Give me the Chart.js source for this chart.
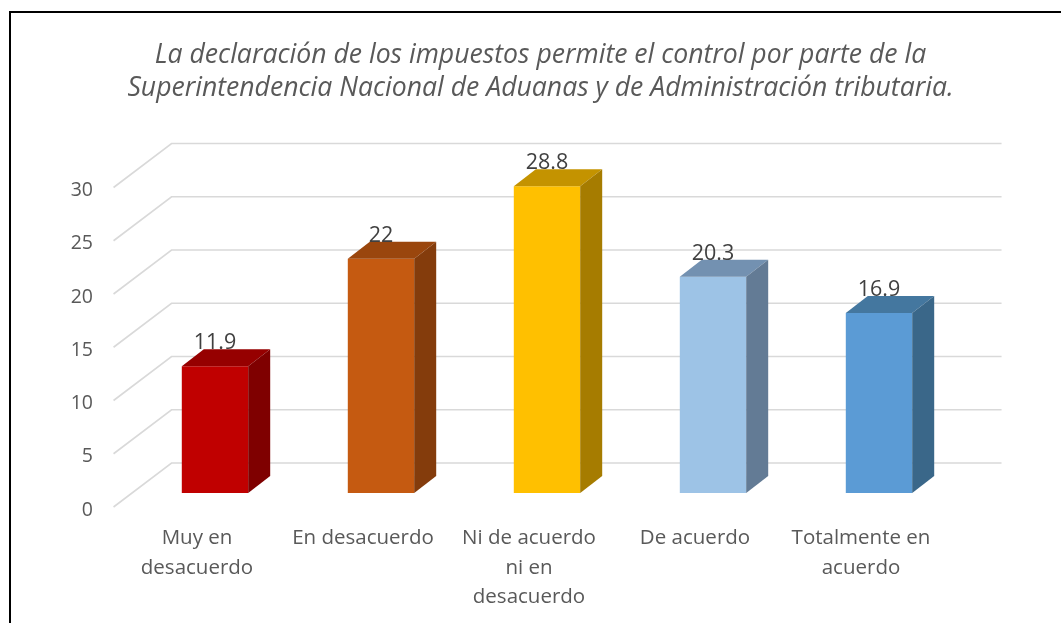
<!DOCTYPE html>
<html>
<head>
<meta charset="utf-8">
<script src="https://cdn.jsdelivr.net/npm/chart.js@4"></script>
<style>
    html, body { margin: 0; padding: 0; background: #fff; overflow: hidden; }
    #frame { position: absolute; left: 9px; top: 11px; width: 2000px; height: 2000px; border: 2px solid #000; pointer-events: none; }
    #wrap { position: absolute; left: 0; top: 0; width: 1061px; height: 623px; }
</style>
</head>
<body>
<div id="wrap"><canvas id="chart"></canvas></div>
<div id="frame"></div>
<script>
    const categories = [
        ['Muy en', 'desacuerdo'],
        ['En desacuerdo'],
        ['Ni de acuerdo', 'ni en', 'desacuerdo'],
        ['De acuerdo'],
        ['Totalmente en', 'acuerdo']
    ];
    const values = [11.9, 22, 28.8, 20.3, 16.9];
    const yTicks = [0, 5, 10, 15, 20, 25, 30];

    const frontColors = ['#C00000', '#C55A11', '#FFC000', '#9DC3E6', '#5B9BD5'];
    const topColors = ['#960000', '#9A460D', '#C49300', '#7391B1', '#44779F'];
    const sideColors = ['#7F0000', '#843C0C', '#A67C00', '#637B95', '#3A6789'];

    // 3D geometry (px)
    const wallDX = 58, wallDY = 44, frontOff = 14; // bars sit 14px behind front edge
    const barDX = 22, barDY = 17;

    const grid3d = {
        id: 'grid3d',
        beforeDatasetsDraw(chart) {
            const { ctx, chartArea, scales: { y } } = chart;
            const shiftX = wallDX * frontOff / wallDY;
            const x0 = chartArea.left - shiftX;
            const xb = x0 + wallDX;
            const xr = chartArea.right + (wallDX - shiftX);
            ctx.save();
            ctx.strokeStyle = '#D9D9D9';
            ctx.lineWidth = 1.6;
            yTicks.forEach(v => {
                const yf = y.getPixelForValue(v);
                ctx.beginPath();
                ctx.moveTo(x0, yf + frontOff);
                ctx.lineTo(xb, yf + frontOff - wallDY);
                ctx.lineTo(xr, yf + frontOff - wallDY);
                ctx.stroke();
            });
            ctx.restore();
        }
    };

    const bars3d = {
        id: 'bars3d',
        afterDatasetsDraw(chart) {
            const { ctx } = chart;
            const meta = chart.getDatasetMeta(0);
            ctx.save();
            meta.data.forEach((bar, i) => {
                const l = bar.x - bar.width / 2, r = bar.x + bar.width / 2;
                const t = bar.y, b = bar.base;
                ctx.fillStyle = topColors[i];
                ctx.beginPath();
                ctx.moveTo(l, t); ctx.lineTo(r, t);
                ctx.lineTo(r + barDX, t - barDY); ctx.lineTo(l + barDX, t - barDY);
                ctx.closePath(); ctx.fill();
                ctx.fillStyle = sideColors[i];
                ctx.beginPath();
                ctx.moveTo(r, t); ctx.lineTo(r + barDX, t - barDY);
                ctx.lineTo(r + barDX, b - barDY); ctx.lineTo(r, b);
                ctx.closePath(); ctx.fill();

                ctx.fillStyle = '#404040';
                ctx.font = '21.5px "Open Sans"';
                ctx.textAlign = 'center';
                ctx.textBaseline = 'middle';
                ctx.fillText(String(values[i]), bar.x, t - 23);
            });
            ctx.restore();
        }
    };

    new Chart(document.getElementById('chart'), {
        type: 'bar',
        data: {
            labels: categories,
            datasets: [{
                data: values,
                backgroundColor: frontColors,
                borderWidth: 0,
                barPercentage: 0.4,
                categoryPercentage: 1
            }]
        },
        options: {
            responsive: true,
            maintainAspectRatio: false,
            animation: false,
            events: [],
            layout: { padding: { left: 20, right: 0, top: 0, bottom: 0 } },
            plugins: {
                legend: { display: false },
                tooltip: { enabled: false },
                title: {
                    display: true,
                    text: ['La declaración de los impuestos permite el control por parte de la',
                           'Superintendencia Nacional de Aduanas y de Administración tributaria.'],
                    color: '#595959',
                    font: { family: 'Open Sans', size: 26.6, style: 'italic', weight: 'normal', lineHeight: 1.25 },
                    padding: { top: 39, bottom: 68 }
                }
            },
            scales: {
                x: {
                    afterFit(scale) { scale.height = 130; },
                    grid: { display: false, drawTicks: false },
                    border: { display: false },
                    ticks: {
                        color: '#595959',
                        font: { family: 'Open Sans', size: 20.5, lineHeight: 1.42 },
                        padding: 31,
                        labelOffset: -18,
                        maxRotation: 0,
                        autoSkip: false
                    }
                },
                y: {
                    min: 0,
                    max: 30,
                    afterFit(scale) { scale.width = 112; },
                    afterBuildTicks(scale) { scale.ticks = yTicks.map(v => ({ value: v })); },
                    grid: { display: false, drawTicks: false },
                    border: { display: false },
                    ticks: {
                        color: '#595959',
                        font: { family: 'Open Sans', size: 19.5 },
                        padding: 39,
                        labelOffset: 17
                    }
                },
                yRight: {
                    position: 'right',
                    display: true,
                    afterFit(scale) { scale.width = 99; },
                    grid: { display: false, drawTicks: false },
                    border: { display: false },
                    ticks: { display: false }
                }
            }
        },
        plugins: [grid3d, bars3d]
    });
</script>
</body>
</html>
